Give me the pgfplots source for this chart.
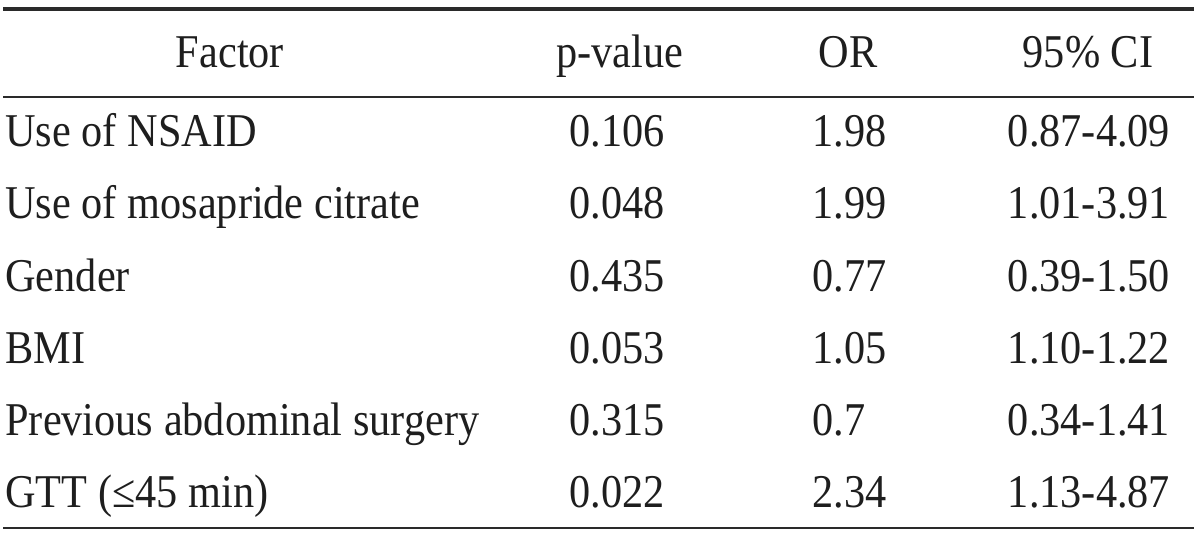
\documentclass[border=0pt]{standalone}
\usepackage{pgfplots}
\usepackage{pgfplotstable}
\pgfplotsset{compat=1.18}
\usepackage{fontspec}
\setmainfont[FakeStretch=0.9]{Liberation Serif}
\definecolor{txt}{HTML}{1E1E1E}
\definecolor{rule}{HTML}{2A2A2A}

\pgfplotstableread[col sep=comma]{
x,y,label
230,68,Factor
620,68,p-value
848,68,OR
1088,68,95\% CI
}\header

\pgfplotstableread[col sep=comma]{
x,y,label
5,147,Use of NSAID
5,219,Use of mosapride citrate
5,291,Gender
5,363,BMI
5,435,Previous abdominal surgery
5,507,GTT (≤45 min)
}\factor

\pgfplotstableread[col sep=comma]{
x,y,label
617,147,0.106
617,219,0.048
617,291,0.435
617,363,0.053
617,435,0.315
617,507,0.022
}\pval

\pgfplotstableread[col sep=comma]{
x,y,label
812,147,1.98
812,219,1.99
812,291,0.77
812,363,1.05
812,435,0.7
812,507,2.34
}\orval

\pgfplotstableread[col sep=comma]{
x,y,label
1089,147,0.87-4.09
1089,219,1.01-3.91
1089,291,0.39-1.50
1089,363,1.10-1.22
1089,435,0.34-1.41
1089,507,1.13-4.87
}\ci

\begin{document}
\begin{tikzpicture}
\begin{axis}[
  width=600pt, height=267.5pt, scale only axis,
  xmin=0, xmax=1200, ymin=0, ymax=535,
  y dir=reverse,
  hide axis, clip=false,
  tabtext/.style={draw=none, mark=none, nodes near coords,
    point meta=explicit symbolic,
    every node near coord/.style={anchor=#1, inner sep=0pt, text=txt,
      font=\fontsize{23.5}{28}\selectfont}},
]
\path (axis cs:0,0) rectangle (axis cs:1200,535);
% rules
\addplot[rule, line width=2pt] coordinates {(3,9.5) (1194,9.5)};
\addplot[rule, line width=0.9pt] coordinates {(3,97) (1194,97)};
\addplot[rule, line width=0.9pt] coordinates {(3,528) (1194,528)};
% text
\addplot[tabtext=base] table[x=x, y=y, meta=label] {\header};
\addplot[tabtext=base west] table[x=x, y=y, meta=label] {\factor};
\addplot[tabtext=base] table[x=x, y=y, meta=label] {\pval};
\addplot[tabtext=base west] table[x=x, y=y, meta=label] {\orval};
\addplot[tabtext=base] table[x=x, y=y, meta=label] {\ci};
\end{axis}
\end{tikzpicture}
\end{document}
